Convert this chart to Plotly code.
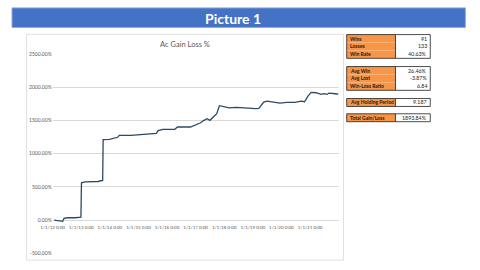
import plotly.graph_objects as go
import pandas as pd

# ---- data ----
dates = [
    "2012-01-20", "2012-03-18", "2012-05-08", "2012-05-25", "2012-07-09", "2012-10-16",
    "2012-11-28", "2012-12-27", "2013-01-03", "2013-02-18", "2013-07-30", "2013-09-13",
    "2013-10-01", "2013-10-07", "2013-12-27", "2014-04-10", "2014-04-30", "2014-09-26",
    "2015-01-25", "2015-05-08", "2015-08-18", "2015-09-09", "2015-11-10", "2016-04-08",
    "2016-05-15", "2016-10-26", "2016-12-27", "2017-02-27", "2017-04-17", "2017-05-26",
    "2017-07-02", "2017-09-02", "2017-09-27", "2017-10-31", "2017-12-19", "2018-03-07",
    "2018-06-03", "2018-08-26", "2018-10-05", "2019-02-07", "2019-03-19", "2019-05-20",
    "2019-07-02", "2019-09-20", "2019-12-14", "2020-03-08", "2020-06-21", "2020-09-10",
    "2020-10-23", "2020-12-03", "2021-01-15", "2021-03-19", "2021-05-20", "2021-06-28",
    "2021-08-08", "2021-08-29", "2021-10-09", "2021-11-20", "2021-12-31",
]
gain_pct = [
    0, -15, -20, 25, 35, 35,
    45, 45, 560, 575, 580, 595,
    595, 1210, 1215, 1245, 1275, 1275,
    1290, 1295, 1305, 1345, 1365, 1365,
    1400, 1400, 1425, 1460, 1500, 1525,
    1500, 1575, 1600, 1720, 1710, 1686,
    1695, 1685, 1680, 1675, 1680, 1775,
    1790, 1780, 1760, 1770, 1770, 1790,
    1780, 1860, 1920, 1915, 1890, 1900,
    1890, 1910, 1900, 1900, 1893.84,
]
year_ticks = ["2012-01-01", "2013-01-01", "2014-01-01", "2015-01-01", "2016-01-01",
              "2017-01-01", "2018-01-01", "2019-01-01", "2020-01-01", "2021-01-01"]
y_ticks = [-500, 0, 500, 1000, 1500, 2000, 2500]

stat_labels = ["Wins", "Losses", "Win Rate", "Avg Win", "Avg Lost", "Win-Loss Ratio",
               "Avg Holding Period", "Total Gain/Loss"]
stat_values = ["91", "133", "40.63%", "26.46%", "-3.87%", "6.84", "9.187", "1893.84%"]
stat_groups = [0, 0, 0, 1, 1, 1, 2, 3]

W, H = 480, 270
def py(p):  # pixel y (from top) -> paper y
    return 1 - p / H
def px(p):
    return p / W

fig = go.Figure()
fig.add_trace(go.Scatter(
    x=pd.to_datetime(dates), y=gain_pct, mode="lines",
    line=dict(color="#2B4A66", width=1.3), hoverinfo="skip", showlegend=False,
))

shapes = []
annotations = []

# title bar
shapes.append(dict(type="rect", xref="paper", yref="paper", x0=0, x1=px(465),
                   y0=py(25), y1=py(5), fillcolor="#4472C4",
                   line=dict(color="#8EA9DB", width=1), layer="below"))
annotations.append(dict(text="<b>Picture 1</b>", xref="paper", yref="paper",
                        x=px(227), y=py(15.5), xanchor="center", yanchor="middle",
                        showarrow=False,
                        font=dict(family="Lato", size=14, color="white")))
# chart box
shapes.append(dict(type="rect", xref="paper", yref="paper", x0=px(15), x1=px(340),
                   y0=py(263), y1=py(32), fillcolor="white",
                   line=dict(color="#E0E0E0", width=1), layer="below"))
annotations.append(dict(text="Ac Gain Loss %", xref="paper", yref="paper",
                        x=px(177), y=py(42), xanchor="center", yanchor="middle",
                        showarrow=False,
                        font=dict(family="Lato", size=7.5, color="#595959")))

# stats table
group_tops = [32.3, 65.0, 97.7, 113.3]
row_h = 8.1
xl0, xm, xr = 343.3, 393.3, 429.0
row_in_group = {}
for i, (lab, val, g) in enumerate(zip(stat_labels, stat_values, stat_groups)):
    k = row_in_group.get(g, 0)
    row_in_group[g] = k + 1
    top = group_tops[g] + k * row_h
    bot = top + row_h
    shapes.append(dict(type="rect", xref="paper", yref="paper", x0=px(xl0), x1=px(xm),
                       y0=py(bot), y1=py(top), fillcolor="#F79646", line=dict(width=0)))
    annotations.append(dict(text="<b>" + lab + "</b>", xref="paper", yref="paper",
                            x=px(xl0 + 1.2), y=py((top + bot) / 2), xanchor="left",
                            yanchor="middle", showarrow=False,
                            font=dict(family="Lato", size=5, color="#1a1a1a")))
    annotations.append(dict(text=val, xref="paper", yref="paper",
                            x=px(xr - 1), y=py((top + bot) / 2), xanchor="right",
                            yanchor="middle", showarrow=False,
                            font=dict(family="Lato", size=5.3, color="#1a1a1a")))
for g in range(4):
    n = stat_groups.count(g)
    top = group_tops[g]
    bot = top + n * row_h
    shapes.append(dict(type="rect", xref="paper", yref="paper", x0=px(xl0), x1=px(xr),
                       y0=py(bot), y1=py(top), line=dict(color="#202020", width=0.8)))
    shapes.append(dict(type="line", xref="paper", yref="paper", x0=px(xm), x1=px(xm),
                       y0=py(bot), y1=py(top), line=dict(color="#202020", width=0.8)))

fig.update_layout(
    width=W, height=H, margin=dict(l=0, r=0, t=0, b=0),
    paper_bgcolor="white", plot_bgcolor="rgba(0,0,0,0)",
    shapes=shapes, annotations=annotations,
    xaxis=dict(domain=[px(41.7), px(335)], range=["2012-01-01", "2022-01-01"],
               anchor="free", position=py(226), showgrid=False, zeroline=False,
               showline=False, tickvals=pd.to_datetime(year_ticks), tickangle=0,
               ticktext=[pd.Timestamp(d).strftime("%-m/%-d/%y") + " 0:00" for d in year_ticks],
               tickfont=dict(family="Lato", size=4.5, color="#595959"), ticks=""),
    yaxis=dict(domain=[py(256), py(52)], range=[-500, 2500], tickvals=y_ticks,
               ticktext=[f"{v:.2f}%" for v in y_ticks],
               showgrid=True, gridcolor="#D9D9D9", gridwidth=1, zeroline=True,
               zerolinecolor="#D9D9D9", zerolinewidth=1, showline=False,
               tickfont=dict(family="Lato", size=5, color="#595959"), ticks=""),
)
fig.write_html("out.html")
